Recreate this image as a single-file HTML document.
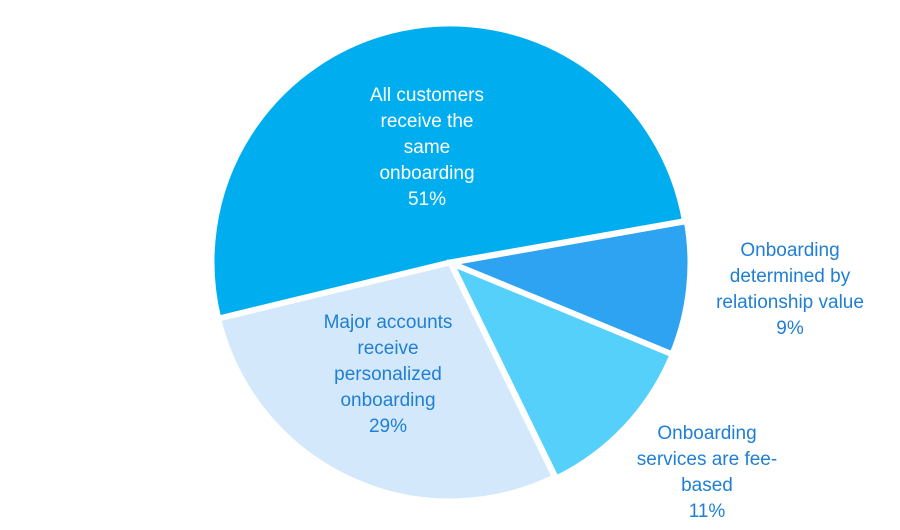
<!DOCTYPE html>
<html><head><style>
body{margin:0;background:#fff;width:900px;height:525px;overflow:hidden}
text{font-family:"Liberation Sans",sans-serif;font-size:19px;text-anchor:middle}
</style></head><body>
<svg width="900" height="525" viewBox="0 0 900 525">
<g stroke="#fff" stroke-width="5" stroke-linejoin="miter">
<path d="M450,262 L684.4,220.7 A238,238 0 1,0 218.7,318 Z" fill="#00AEEF"/>
<path transform="translate(2,1)" d="M450,262 L684.4,220.7 A238,238 0 0,1 670,352.7 Z" fill="#2EA3F2"/>
<path transform="translate(2,2)" d="M450,262 L670,352.7 A238,238 0 0,1 554.3,475.9 Z" fill="#55D0FA"/>
<path transform="translate(0,1)" d="M450,262 L554.3,475.9 A238,238 0 0,1 218.7,318 Z" fill="#D3E9FB"/>
</g>
<g fill="#fff">
<text x="427" y="101">All customers</text>
<text x="427" y="127">receive the</text>
<text x="427" y="153">same</text>
<text x="427" y="179">onboarding</text>
<text x="427" y="205">51%</text>
</g>
<g fill="#1F7FD4">
<text x="790" y="256">Onboarding</text>
<text x="790" y="282">determined by</text>
<text x="790" y="308">relationship value</text>
<text x="790" y="334">9%</text>
<text x="707" y="439">Onboarding</text>
<text x="707" y="465">services are fee-</text>
<text x="707" y="491">based</text>
<text x="707" y="517">11%</text>
<text x="388" y="328">Major accounts</text>
<text x="388" y="354">receive</text>
<text x="388" y="380">personalized</text>
<text x="388" y="406">onboarding</text>
<text x="388" y="432">29%</text>
</g>
</svg>
</body></html>
